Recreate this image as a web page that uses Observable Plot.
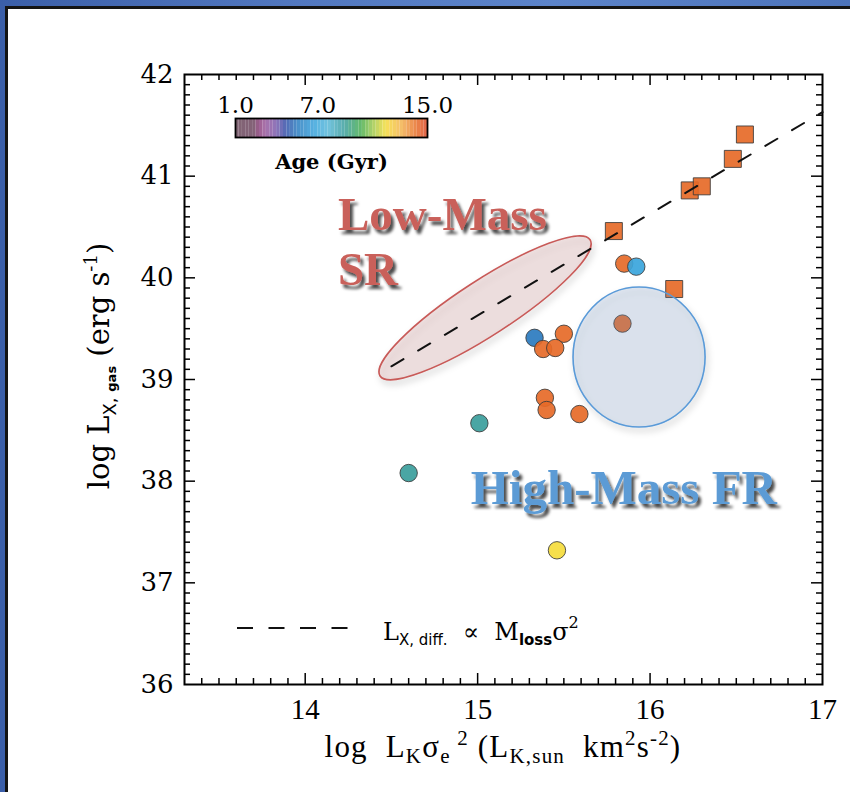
<!DOCTYPE html>
<html>
<head>
<meta charset="utf-8">
<script src="https://cdn.jsdelivr.net/npm/d3@7"></script>
<script src="https://cdn.jsdelivr.net/npm/@observablehq/plot@0.6"></script>
<style>
  html, body { margin: 0; padding: 0; width: 850px; height: 792px; overflow: hidden; }
  body { position: relative; background: linear-gradient(90deg, #3b5fa9 0%, #5278c0 35%, #5c84ca 65%, #4d74bb 100%); }
  #panel { position: absolute; left: 5px; top: 6px; width: 870px; height: 810px; background: #fff; border: 3px solid #141414; box-sizing: border-box; }
  #chart { position: absolute; left: 0; top: 0; }
  #cbar { position: absolute; left: 215px; top: 80px; }
</style>
</head>
<body>
<div id="panel"></div>
<div id="chart"></div>
<div id="cbar"></div>
<script>
// Hot-gas X-ray luminosity vs. L_K * sigma_e^2, coloured by stellar age (Gyr)
// Squares: galaxies on the stellar mass-loss relation
const squareX   = [15.79, 16.23, 16.30, 16.48, 16.55, 16.14];
const squareY   = [40.46, 40.86, 40.90, 41.17, 41.41, 39.89];
const squareAge = [14.3, 14.3, 14.3, 14.3, 14.3, 14.3];

// Circles: remaining galaxies
const circleX   = [15.85, 15.92, 15.84, 15.33, 15.50, 15.38, 15.45, 15.39, 15.40, 15.59, 15.01, 14.60, 15.46];
const circleY   = [40.14, 40.11, 39.55, 39.41, 39.45, 39.30, 39.31, 38.82, 38.70, 38.66, 38.57, 38.08, 37.32];
const circleAge = [14.3, 6.8, 14.3, 5.5, 14.3, 14.3, 14.3, 14.3, 14.3, 14.3, 9.0, 9.0, 12.0];

// L_X,diff ∝ M_loss σ² relation (unit slope)
const relationX = [14.5, 17.0];
const relationY = [39.13, 41.63];

// Axis ticks
const xTicks = [14, 15, 16, 17];
const yTicks = [36, 37, 38, 39, 40, 41, 42];
const ageTicks = [1, 7, 15];

// Age colour table (Gyr -> colour)
const ageStops  = [1.0, 2.4, 2.7, 3.2, 4.0, 4.7, 5.5, 6.8, 7.8, 9.0, 10.2, 11.0, 12.0, 13.2, 14.3, 15.0];
const ageColors = ["#6b4a5c", "#6e4660", "#8a3f78", "#9a5a9c", "#7a5cac", "#3550a8", "#2b7bbf", "#39a5dc",
                   "#5ab8d8", "#3b9e9c", "#4aae50", "#9cc850", "#f5dc3c", "#f2b050", "#e66a28", "#dc4a2a"];

const squares = squareX.map((x, i) => ({x, y: squareY[i], age: squareAge[i]}));
const circles = circleX.map((x, i) => ({x, y: circleY[i], age: circleAge[i]}));
const relation = relationX.map((x, i) => ({x, y: relationY[i]}));

const colorScale = {type: "linear", domain: ageStops, range: ageColors, interpolate: "rgb"};

const W = 850, H = 792;
const mL = 184, mR = 28, mT = 74, mB = 108;
const fw = W - mL - mR, fh = H - mT - mB;
const majorLen = 11, minorLen = 6;

const xMinor = d3.range(134, 170).filter(d => d % 10).map(d => d / 10);
const xMajor = [14, 15, 16];
const yMinor = d3.range(361, 420).filter(d => d % 10).map(d => d / 10);
const yMajor = [37, 38, 39, 40, 41];

// Region outlines (centre, end of major axis, minor/major ratio) in data units
const regionLow  = {cx: 15.046, cy: 39.70, ax: 15.655, ay: 40.37, ratio: 0.22, fill: "#be7878", stroke: "#c85a58"};
const regionHigh = {cx: 15.939, cy: 39.217, ax: 16.322, ay: 39.217, ratio: 1.06, fill: "#6e91be", stroke: "#5a9ad8"};

const ellipseMark = (e) => (index, scales) => {
  const cx = scales.x(e.cx), cy = scales.y(e.cy);
  const ex = scales.x(e.ax), ey = scales.y(e.ay);
  const rx = Math.hypot(ex - cx, ey - cy);
  const ang = Math.atan2(ey - cy, ex - cx) * 180 / Math.PI;
  const g = d3.create("svg:g").attr("filter", "url(#regionShadow)");
  g.append("ellipse")
    .attr("transform", `translate(${cx},${cy}) rotate(${ang})`)
    .attr("rx", rx).attr("ry", rx * e.ratio)
    .attr("fill", e.fill).attr("fill-opacity", 0.2)
    .attr("stroke", e.stroke).attr("stroke-width", 1.6);
  return g.node();
};

const tickStyle = {stroke: "#000", strokeWidth: 1.5};

const chart = Plot.plot({
  width: W, height: H,
  marginLeft: mL, marginRight: mR, marginTop: mT, marginBottom: mB,
  x: {domain: [13.3, 17], axis: null},
  y: {domain: [36, 42], axis: null},
  color: colorScale,
  style: {background: "transparent", overflow: "visible"},
  marks: [
    // inward ticks on all four sides
    Plot.tickX(xMinor, {x: d => d, insetTop: fh - minorLen, ...tickStyle}),
    Plot.tickX(xMinor, {x: d => d, insetBottom: fh - minorLen, ...tickStyle}),
    Plot.tickX(xMajor, {x: d => d, insetTop: fh - majorLen, ...tickStyle}),
    Plot.tickX(xMajor, {x: d => d, insetBottom: fh - majorLen, ...tickStyle}),
    Plot.tickY(yMinor, {y: d => d, insetRight: fw - minorLen, ...tickStyle}),
    Plot.tickY(yMinor, {y: d => d, insetLeft: fw - minorLen, ...tickStyle}),
    Plot.tickY(yMajor, {y: d => d, insetRight: fw - majorLen, ...tickStyle}),
    Plot.tickY(yMajor, {y: d => d, insetLeft: fw - majorLen, ...tickStyle}),
    Plot.frame({stroke: "#000", strokeWidth: 2}),
    Plot.text(xTicks, {x: d => d, frameAnchor: "bottom", dy: 34, text: d => String(d),
      fontFamily: "Liberation Serif", fontSize: 29, fill: "#000"}),
    Plot.text(yTicks, {y: d => d, frameAnchor: "left", dx: -11, textAnchor: "end", text: d => String(d),
      fontFamily: "DejaVu Serif", fontSize: 26, fill: "#000"}),
    // galaxies
    Plot.dot(circles, {x: "x", y: "y", fill: "age", r: 8.7, symbol: "circle",
      stroke: "#3a3a3a", strokeWidth: 1, strokeOpacity: 0.85, fillOpacity: 0.92}),
    Plot.dot(squares, {x: "x", y: "y", fill: "age", r: 9.6, symbol: "square",
      stroke: "#3a3a3a", strokeWidth: 1, strokeOpacity: 0.85, fillOpacity: 0.92}),
    // highlighted regions
    ellipseMark(regionLow),
    ellipseMark(regionHigh),
    // relation
    Plot.line(relation, {x: "x", y: "y", stroke: "#111", strokeWidth: 2, strokeDasharray: "14,17"}),
    // region labels
    Plot.text([{x: 14.19, y: 40.47, t: "Low-Mass"}, {x: 14.19, y: 39.93, t: "SR"}],
      {x: "x", y: "y", text: "t", textAnchor: "start", lineAnchor: "bottom",
       fontFamily: "Liberation Serif", fontWeight: "bold", fontSize: 47, fill: "#c9605a",
       ariaDescription: "region label"}),
    Plot.text([{x: 14.96, y: 37.78, t: "High-Mass FR"}],
      {x: "x", y: "y", text: "t", textAnchor: "start", lineAnchor: "bottom",
       fontFamily: "Liberation Serif", fontWeight: "bold", fontSize: 49, fill: "#5b9bd5",
       ariaDescription: "region label"})
  ]
});
document.getElementById("chart").append(chart);

const svg = d3.select(chart);
const defs = svg.insert("defs", ":first-child");
const f1 = defs.append("filter").attr("id", "labelShadow").attr("x", "-10%").attr("y", "-20%").attr("width", "130%").attr("height", "150%");
f1.append("feDropShadow").attr("dx", 3).attr("dy", 4).attr("stdDeviation", 1.8).attr("flood-color", "#000").attr("flood-opacity", 0.7);
const f2 = defs.append("filter").attr("id", "regionShadow").attr("x", "-20%").attr("y", "-20%").attr("width", "140%").attr("height", "150%");
f2.append("feDropShadow").attr("dx", 2).attr("dy", 4).attr("stdDeviation", 3).attr("flood-color", "#000").attr("flood-opacity", 0.25);
svg.selectAll('g[aria-description="region label"]').attr("filter", "url(#labelShadow)");

// y-axis title
const yl = svg.append("text")
  .attr("transform", "translate(109,366) rotate(-90)")
  .attr("text-anchor", "middle")
  .attr("font-family", "DejaVu Serif").attr("font-size", 29).attr("fill", "#000");
yl.append("tspan").text("log L");
yl.append("tspan").attr("font-size", 18).attr("dy", 7).attr("font-family", "DejaVu Sans").text("X, ");
yl.append("tspan").attr("font-size", 13).attr("font-weight", "bold").attr("font-family", "DejaVu Sans").text("gas");
yl.append("tspan").attr("dy", -7).text(" (erg s");
yl.append("tspan").attr("font-size", 18).attr("dy", -12).text("-1");
yl.append("tspan").attr("dy", 12).text(")");

// x-axis title
const xl = svg.append("text")
  .attr("x", 503).attr("y", 757)
  .attr("text-anchor", "middle")
  .attr("font-family", "Liberation Serif").attr("font-size", 31).attr("fill", "#000")
  .attr("letter-spacing", 1.2)
  .attr("xml:space", "preserve").style("white-space", "pre");
xl.append("tspan").text("log  L");
xl.append("tspan").attr("font-size", 21).attr("dy", 6).text("K");
xl.append("tspan").attr("dy", -6).text("σ");
xl.append("tspan").attr("font-size", 21).attr("dy", 6).text("e");
xl.append("tspan").attr("font-size", 21).attr("dy", -18).text(" 2");
xl.append("tspan").attr("dy", 12).text(" (L");
xl.append("tspan").attr("font-size", 21).attr("dy", 6).text("K,sun");
xl.append("tspan").attr("dy", -6).text("  km");
xl.append("tspan").attr("font-size", 21).attr("dy", -12).text("2");
xl.append("tspan").attr("dy", 12).text("s");
xl.append("tspan").attr("font-size", 21).attr("dy", -12).text("-2");
xl.append("tspan").attr("dy", 12).text(")");

// relation key
const key = svg.append("g");
key.append("line").attr("x1", 237).attr("x2", 348).attr("y1", 628).attr("y2", 628)
  .attr("stroke", "#111").attr("stroke-width", 2).attr("stroke-dasharray", "16,15.5");
const kt = key.append("text").attr("x", 383).attr("y", 640).attr("text-anchor", "start")
  .attr("font-family", "DejaVu Serif").attr("font-size", 24).attr("fill", "#000")
  .attr("xml:space", "preserve").style("white-space", "pre");
kt.append("tspan").text("L");
kt.append("tspan").attr("font-family", "DejaVu Sans").attr("font-size", 15).attr("dy", 5).text("X, diff.");
kt.append("tspan").attr("dy", -5).text("  ∝  M");
kt.append("tspan").attr("font-family", "DejaVu Sans").attr("font-weight", "bold").attr("font-size", 15).attr("dy", 5).text("loss");
kt.append("tspan").attr("dy", -5).text("σ");
kt.append("tspan").attr("font-size", 16).attr("dy", -12).text("2");

// age colour bar
const stripes = d3.range(1, 15, 0.25);
const cbar = Plot.plot({
  width: 232, height: 100,
  marginLeft: 20, marginRight: 20, marginTop: 38, marginBottom: 43,
  x: {domain: [1, 15], axis: null},
  color: colorScale,
  style: {background: "transparent", overflow: "visible"},
  marks: [
    Plot.rect(stripes, {x1: d => d, x2: d => d + 0.25, fill: d => d + 0.125, fillOpacity: 0.85}),
    Plot.frame({stroke: "#000", strokeWidth: 1.8}),
    Plot.text(ageTicks, {x: d => d, frameAnchor: "top", lineAnchor: "bottom", dy: -6,
      text: d => d.toFixed(1), fontFamily: "DejaVu Serif", fontSize: 23, fill: "#000"}),
    Plot.text(["Age (Gyr)"], {frameAnchor: "bottom", lineAnchor: "bottom", dy: 31,
      text: d => d, fontFamily: "DejaVu Serif", fontWeight: "bold", fontSize: 21, fill: "#000"})
  ]
});
document.getElementById("cbar").append(cbar);
</script>
</body>
</html>
